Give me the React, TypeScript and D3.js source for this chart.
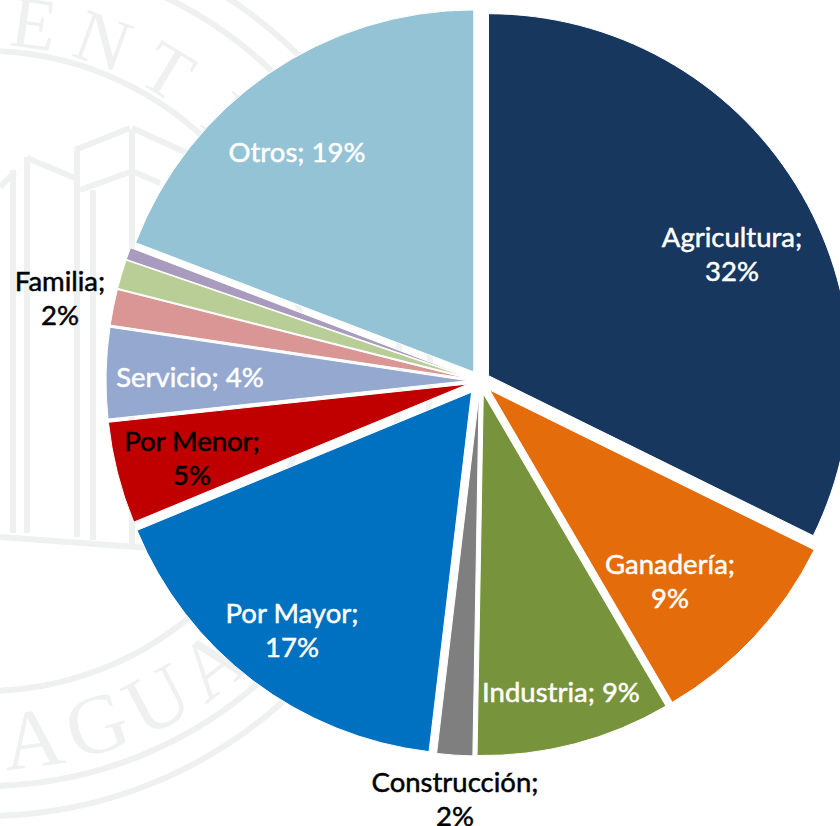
import React from 'react';
import * as d3 from 'd3';

// data, clockwise from 12 o'clock
const categories = ['Agricultura', 'Ganadería', 'Industria', 'Construcción', 'Por Mayor', 'Por Menor', 'Servicio', 'Familia', 'Otros A', 'Otros B', 'Otros'];
const shares = [32.3, 9.3, 8.7, 1.6, 16.9, 4.55, 4.05, 1.6, 1.3, 0.55, 19.2];
const shownPercent = ['32%', '9%', '9%', '2%', '17%', '5%', '4%', '2%', '', '', '19%'];
const colors = ['#17375e', '#e46c0a', '#77933c', '#7f7f7f', '#0070c0', '#c00000', '#95a9d0', '#d99694', '#b9cd96', '#a99bbd', '#93c3d4'];

// layout: how far each slice is pulled out, and where its label sits
const explode = [10, 13, 13, 13, 14, 12, 12, 12, 12, 12, 11];
const labelAt: ([number, number, boolean, string] | null)[] = [
  [732, 251, true, '#fff'],
  [670, 578, true, '#fff'],
  [561, 692, false, '#fff'],
  [455, 796, true, '#000'],
  [292, 627, true, '#fff'],
  [192, 455, true, '#000'],
  [190, 377, false, '#fff'],
  [60, 295, true, '#000'],
  null,
  null,
  [297, 152, false, '#fff'],
];

const WIDTH = 840;
const HEIGHT = 826;
const cx = 480;
const cy = 381;
const radius = 362;
const FONT = 'Lato, "Noto Sans", sans-serif';

// seal behind the chart
const SEAL = '#eef1f0';
const sealX = -15;
const sealY = 371;
const sealRings = [320, 415, 445];
const topLetters = ['E', 'N', 'T', 'I'];
const bottomLetters = ['A', 'G', 'U', 'A'];
const columns: [number, number, number, number][] = [
  [13, 170, 13, 533], [27, 157, 27, 533], [77, 150, 77, 537], [93, 190, 93, 540], [132, 130, 132, 545],
];
const beams: [number, number, number, number][] = [
  [0, 187, 15, 172], [27, 158, 75, 178], [75, 150, 130, 128], [132, 128, 187, 153],
  [80, 190, 130, 172], [134, 172, 160, 183], [0, 537, 150, 548],
];

function Seal() {
  const topAngle = d3.scalePoint<string>().domain(d3.range(4).map(String)).range([8, 43]);
  const bottomAngle = d3.scalePoint<string>().domain(d3.range(4).map(String)).range([172.6, 142.2]);
  return (
    <g>
      {sealRings.map((r) => (
        <circle key={r} cx={sealX} cy={sealY} r={r} fill="none" stroke={SEAL} strokeWidth={6} />
      ))}
      {columns.concat(beams).map((l, i) => (
        <line key={i} x1={l[0]} y1={l[1]} x2={l[2]} y2={l[3]} stroke={SEAL} strokeWidth={6} />
      ))}
      <g fontFamily='"Liberation Serif", serif' fill={SEAL} textAnchor="middle">
        {topLetters.map((c, i) => {
          const a = topAngle(String(i)) as number;
          return (
            <text key={i} fontSize={74} transform={`translate(${sealX},${sealY}) rotate(${a}) translate(0,-326)`}>{c}</text>
          );
        })}
        {bottomLetters.map((c, i) => {
          const a = bottomAngle(String(i)) as number;
          return (
            <text key={i} fontSize={84} transform={`translate(${sealX},${sealY}) rotate(${a}) translate(0,-399) rotate(180)`}>{c}</text>
          );
        })}
      </g>
    </g>
  );
}

export default function App() {
  const pie = d3.pie<number>().sort(null).value((d) => d);
  const arc = d3.arc<d3.PieArcDatum<number>>().innerRadius(0).outerRadius(radius);
  const slices = pie(shares);

  return (
    <svg width={WIDTH} height={HEIGHT} style={{ position: 'fixed', left: 0, top: 0 }}>
      <rect width={WIDTH} height={HEIGHT} fill="#fff" />
      <Seal />
      <g transform={`translate(${cx},${cy})`}>
        {slices.map((s, i) => {
          const mid = (s.startAngle + s.endAngle) / 2;
          const dx = Math.sin(mid) * explode[i];
          const dy = -Math.cos(mid) * explode[i];
          return (
            <path key={categories[i]} d={arc(s) as string} transform={`translate(${dx},${dy})`} fill={colors[i]} stroke="#fff" strokeWidth={1} />
          );
        })}
      </g>
      <g fontFamily={FONT} fontSize={27.5} textAnchor="middle" strokeWidth={0.5}>
        {labelAt.map((l, i) => {
          if (!l) return null;
          const [x, y, wrap, fill] = l;
          const name = categories[i] + ';';
          return wrap ? (
            <text key={i} x={x} y={y} fill={fill} stroke={fill}>
              <tspan x={x} dy="-0.15em">{name}</tspan>
              <tspan x={x} dy="1.25em">{shownPercent[i]}</tspan>
            </text>
          ) : (
            <text key={i} x={x} y={y} dy="0.35em" fill={fill} stroke={fill}>{name + ' ' + shownPercent[i]}</text>
          );
        })}
      </g>
    </svg>
  );
}
